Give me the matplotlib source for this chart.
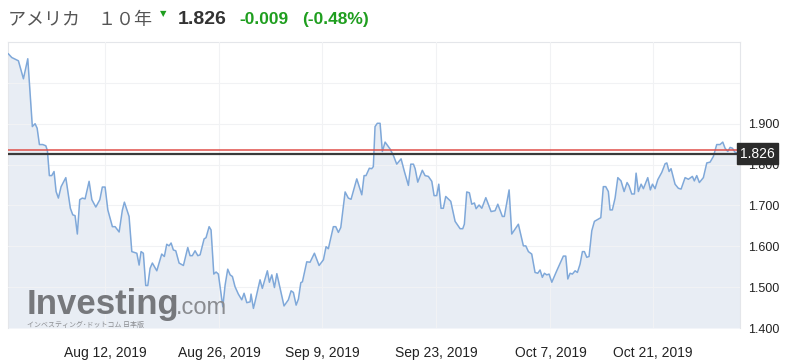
import matplotlib
matplotlib.use("Agg")
import matplotlib.pyplot as plt

# trading sessions counted from Aug 12, 2019 (bond market days)
sesiones = [-8.47, -8.17, -7.59, -7.15, -6.77, -6.37, -6.13, -5.95, -5.75, -5.46, -5.19, -5.05, -4.88, -4.67,
            -4.47, -4.29, -4.09, -3.85, -3.44, -3.04, -2.83, -2.63, -2.43, -2.22, -1.99, -1.75, -1.40, -1.16,
            -0.81, -0.46, -0.24, 0.00, 0.24, 0.64, 0.88, 1.23, 1.51, 1.69, 2.10, 2.34, 2.78, 2.98, 3.15, 3.35,
            3.56, 3.74, 3.94, 4.14, 4.53, 4.96, 5.19, 5.40, 5.60, 5.78, 5.98, 6.19, 6.48, 6.86, 7.24, 7.44,
            7.64, 7.88, 8.12, 8.32, 8.67, 8.84, 9.11, 9.28, 9.52, 9.72, 9.92, 10.31, 10.51, 10.74, 10.95,
            11.15, 11.38, 11.67, 11.97, 12.17, 12.41, 12.70, 12.78, 12.99, 13.13, 13.57, 13.77, 14.21, 14.39,
            14.60, 14.83, 15.04, 15.67, 16.05, 16.29, 16.49, 16.73, 16.93, 17.14, 17.28, 17.66, 17.95, 18.33,
            18.74, 19.12, 19.35, 19.55, 19.99, 20.20, 20.43, 20.64, 21.02, 21.30, 21.54, 22.04, 22.48, 22.68,
            22.85, 23.14, 23.35, 23.49, 23.64, 23.84, 24.08, 24.28, 24.52, 24.96, 25.25, 25.54, 25.92, 26.21,
            26.56, 26.77, 27.00, 27.15, 27.38, 27.78, 28.02, 28.31, 28.61, 28.81, 29.04, 29.22, 29.42, 29.62,
            29.83, 30.27, 30.65, 31.09, 31.32, 31.46, 31.67, 31.90, 32.11, 32.34, 32.49, 32.75, 32.99, 33.34,
            33.80, 34.15, 34.39, 34.79, 34.96, 35.38, 35.61, 36.19, 36.63, 36.84, 37.07, 37.36, 37.65, 37.89,
            38.09, 38.29, 38.47, 38.68, 38.88, 39.12, 39.55, 40.13, 40.34, 40.52, 40.72, 40.92, 41.16, 41.36,
            41.59, 41.80, 41.97, 42.18, 42.38, 42.62, 42.85, 43.41, 43.63, 43.84, 44.07, 44.22, 44.42, 44.66,
            44.90, 45.18, 45.45, 45.71, 45.88, 46.12, 46.35, 46.50, 46.70, 46.94, 47.14, 47.52, 47.75, 47.93,
            48.16, 48.40, 48.75, 49.04, 49.19, 49.39, 49.56, 49.91, 50.20, 50.44, 50.79, 51.08, 51.43, 51.60,
            51.81, 52.04, 52.39, 52.69, 52.98, 53.27, 53.56, 53.85, 54.09, 54.29, 54.53, 54.73, 54.93, 55.17,
            55.40, 55.60]

rendimientos = [2.071, 2.062, 2.054, 2.010, 2.059, 1.893, 1.900, 1.889, 1.849, 1.849, 1.846, 1.834, 1.773, 1.773,
                1.783, 1.734, 1.718, 1.746, 1.768, 1.693, 1.677, 1.675, 1.630, 1.714, 1.718, 1.716, 1.759, 1.714,
                1.696, 1.714, 1.745, 1.745, 1.689, 1.648, 1.648, 1.635, 1.688, 1.708, 1.673, 1.587, 1.583, 1.554,
                1.587, 1.583, 1.504, 1.504, 1.546, 1.559, 1.540, 1.581, 1.575, 1.605, 1.601, 1.608, 1.591, 1.589,
                1.559, 1.553, 1.597, 1.577, 1.577, 1.589, 1.577, 1.579, 1.618, 1.621, 1.648, 1.640, 1.532, 1.537,
                1.532, 1.452, 1.505, 1.544, 1.530, 1.526, 1.501, 1.483, 1.469, 1.485, 1.462, 1.464, 1.483, 1.448,
                1.464, 1.518, 1.497, 1.540, 1.512, 1.530, 1.499, 1.533, 1.454, 1.469, 1.491, 1.487, 1.456, 1.471,
                1.511, 1.513, 1.562, 1.561, 1.583, 1.553, 1.567, 1.599, 1.594, 1.648, 1.648, 1.634, 1.646, 1.733,
                1.718, 1.715, 1.765, 1.726, 1.773, 1.773, 1.791, 1.790, 1.795, 1.893, 1.901, 1.901, 1.832, 1.855,
                1.838, 1.822, 1.801, 1.814, 1.783, 1.749, 1.801, 1.801, 1.790, 1.757, 1.786, 1.773, 1.771, 1.759,
                1.724, 1.724, 1.752, 1.693, 1.693, 1.722, 1.710, 1.661, 1.643, 1.643, 1.654, 1.733, 1.731, 1.703,
                1.706, 1.692, 1.701, 1.693, 1.719, 1.685, 1.687, 1.703, 1.673, 1.673, 1.738, 1.630, 1.654, 1.601,
                1.601, 1.587, 1.581, 1.536, 1.534, 1.542, 1.524, 1.534, 1.530, 1.532, 1.512, 1.540, 1.576, 1.576,
                1.520, 1.534, 1.532, 1.540, 1.536, 1.556, 1.587, 1.587, 1.573, 1.575, 1.638, 1.661, 1.670, 1.746,
                1.746, 1.734, 1.689, 1.689, 1.718, 1.768, 1.760, 1.734, 1.756, 1.748, 1.728, 1.728, 1.779, 1.734,
                1.752, 1.741, 1.768, 1.738, 1.752, 1.741, 1.763, 1.781, 1.802, 1.804, 1.783, 1.790, 1.752, 1.742,
                1.740, 1.768, 1.764, 1.771, 1.760, 1.773, 1.756, 1.768, 1.804, 1.806, 1.820, 1.849, 1.849, 1.855,
                1.840, 1.832, 1.842, 1.840, 1.830, 1.828, 1.826]

tick_sesiones = [0, 10, 19, 29, 39, 48]
tick_fechas = ["Aug 12, 2019", "Aug 26, 2019", "Sep 9, 2019", "Sep 23, 2019", "Oct 7, 2019", "Oct 21, 2019"]
y_ticks = [1.4, 1.5, 1.6, 1.7, 1.8, 1.9, 2.0]
y_labels = ["1.400", "1.500", "1.600", "1.700", "1.800", "1.900", ""]

ultimo = 1.826
cierre_anterior = 1.835
cambio = "-0.009"
cambio_pct = "(-0.48%)"

verde = "#1f9e1f"
gris_borde = "#e4e6ea"

fig = plt.figure(figsize=(7.86, 3.63), dpi=100)
ax = fig.add_axes([0.0102, 0.0964, 0.9313, 0.7879])

ax.fill_between(sesiones, rendimientos, 1.4, color="#e8edf4", lw=0, zorder=1)
ax.plot(sesiones, rendimientos, color="#7fa8d9", lw=1.1, zorder=3)
ax.axhline(cierre_anterior, color="#e0504a", lw=1.1, zorder=4)
ax.axhline(ultimo, color="#3a3a3a", lw=1.6, zorder=4)

ax.set_xlim(-8.5, 55.6)
ax.set_ylim(1.4, 2.1)
ax.set_xticks(tick_sesiones)
ax.set_xticklabels(tick_fechas, family=["Liberation Sans Narrow", "Liberation Sans"], fontsize=10, color="#222222")
ax.set_yticks(y_ticks)
ax.set_yticklabels(y_labels, family="Liberation Sans", fontsize=9, color="#222222")
ax.yaxis.tick_right()
ax.tick_params(length=0)
ax.tick_params(axis="y", pad=6)
ax.tick_params(axis="x", pad=13)
ax.grid(color="#f1f2f4", lw=0.8, zorder=2)
ax.set_axisbelow(False)
for lado in ["top", "left", "right"]:
    ax.spines[lado].set_color(gris_borde)
ax.spines["bottom"].set_visible(False)

ax.text(1.0, ultimo, "1.826", transform=ax.get_yaxis_transform(), ha="left", va="center",
        family="Liberation Sans", fontsize=10, color="white", zorder=6, clip_on=False,
        bbox=dict(boxstyle="square,pad=0.25", fc="#2b2b2b", ec="#2b2b2b"))

# marca de agua
ax.text(0.026, 0.05, "Investing", transform=ax.transAxes, family="Liberation Sans", fontweight="bold",
        fontsize=25, color="#76787c", zorder=5)
ax.text(0.229, 0.05, ".com", transform=ax.transAxes, family="Liberation Sans",
        fontsize=17, color="#8a8c90", zorder=5)
ax.text(0.026, 0.003, "インベスティング･ドットコム 日本版", transform=ax.transAxes,
        family=["Noto Sans CJK JP", "DejaVu Sans"], fontsize=5, color="#8a8c90", zorder=5)

# encabezado
fig.text(0.010, 0.945, "アメリカ　１０年", family=["Noto Sans CJK JP", "DejaVu Sans"], fontsize=13,
         color="#555555", va="center")
fig.text(0.204, 0.962, "▼", family="DejaVu Sans", fontsize=6, color=verde, va="center")
fig.text(0.226, 0.945, "1.826", family="Liberation Sans", fontweight="bold", fontsize=14,
         color="#333333", va="center")
fig.text(0.305, 0.945, cambio, family="Liberation Sans", fontweight="bold", fontsize=12.5,
         color=verde, va="center")
fig.text(0.384, 0.945, cambio_pct, family="Liberation Sans", fontweight="bold", fontsize=12.5,
         color=verde, va="center")

plt.savefig("out.png", dpi=100)
